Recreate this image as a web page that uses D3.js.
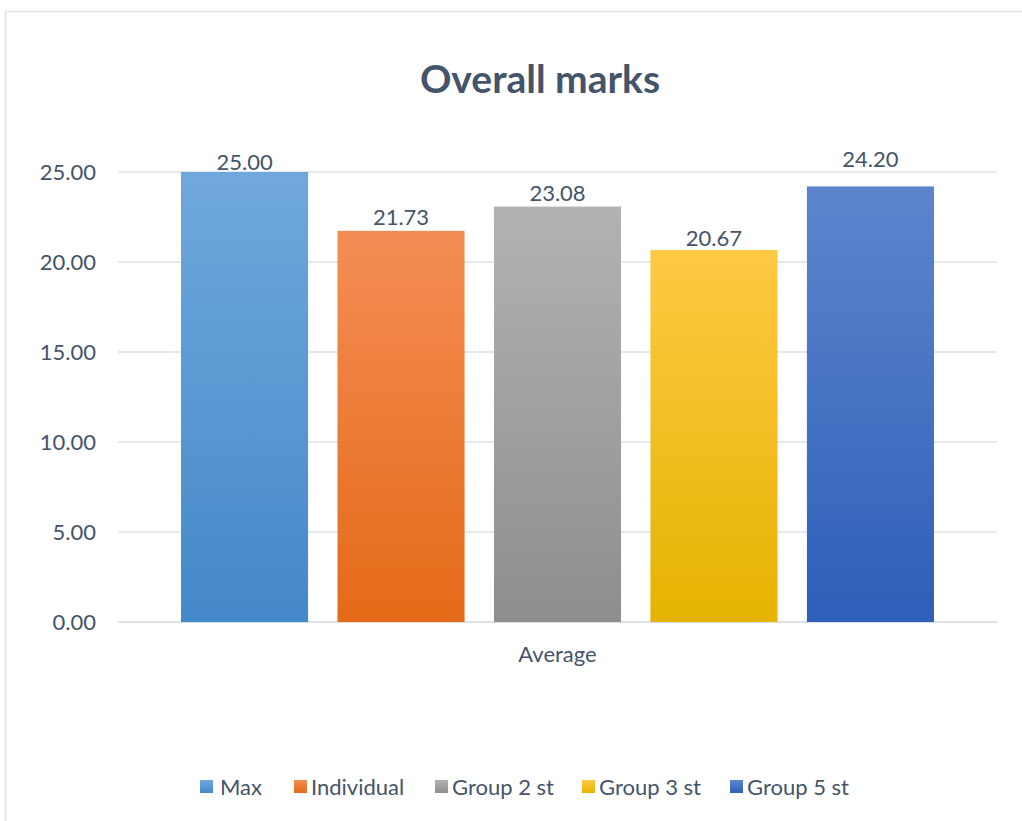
<!DOCTYPE html>
<html><head><meta charset="utf-8">
<script src="https://cdn.jsdelivr.net/npm/d3@7"></script>
<style>body{margin:0;background:#fff;} text{font-family:Lato,"Open Sans",sans-serif;}</style>
</head><body><svg id="c" width="1022" height="821"></svg>
<script>
const categories = ["Average"];
const seriesNames = ["Max","Individual","Group 2 st","Group 3 st","Group 5 st"];
const seriesValues = [25.00, 21.73, 23.08, 20.67, 24.20];
const yTicks = [0,5,10,15,20,25];
const colorsTop = ["#70a8dd","#f48d55","#b2b2b2","#ffc943","#5d85cd"];
const colorsBottom = ["#4388c8","#e46a17","#8e8e8e","#e5b300","#2d5fb8"];

const svg = d3.select("#c");
const txt = "#44546a";
svg.append("rect").attr("x",5.5).attr("y",11.5).attr("width",1030).attr("height",830)
  .attr("fill","#fff").attr("stroke","#dfe3e8").attr("stroke-width",1.5);

const defs = svg.append("defs");
seriesNames.forEach((s,i)=>{
  const g = defs.append("linearGradient").attr("id","g"+i).attr("x1",0).attr("y1",0).attr("x2",0).attr("y2",1);
  g.append("stop").attr("offset","0%").attr("stop-color",colorsTop[i]);
  g.append("stop").attr("offset","100%").attr("stop-color",colorsBottom[i]);
});

const pLeft=118, pRight=997, pTop=172, pBottom=622;
const y = d3.scaleLinear().domain([0,25]).range([pBottom,pTop]);
const x0 = d3.scaleBand().domain(categories).range([pLeft,pRight]).paddingInner(0).paddingOuter(0.0837);
const x1 = d3.scaleBand().domain(seriesNames).range([0,x0.bandwidth()]).paddingInner(0.188).paddingOuter(0);
// label gap above each bar (as laid out in the source chart)
const labelGap = [2,6,6,4,19];

svg.append("text").attr("x",540).attr("y",93).attr("text-anchor","middle")
  .attr("font-size",39).attr("font-weight","bold").attr("fill",txt).text("Overall marks");

svg.append("g").selectAll("line").data(yTicks).join("line")
  .attr("x1",pLeft).attr("x2",pRight).attr("y1",d=>y(d)).attr("y2",d=>y(d))
  .attr("stroke","#dde1e6").attr("stroke-width",d=>d===0?2:1.5);

const yAxis = d3.axisLeft(y).tickValues(yTicks).tickFormat(d3.format(".2f")).tickSize(0).tickPadding(0);
const ga = svg.append("g").attr("transform",`translate(96,0)`).call(yAxis);
ga.select(".domain").remove();
ga.selectAll("text").attr("font-size",22).attr("fill",txt).attr("font-family","Lato,'Open Sans',sans-serif").attr("dy","0.35em");

const gc = svg.append("g").selectAll("g").data(categories).join("g").attr("transform",d=>`translate(${x0(d)},0)`);
gc.selectAll("rect").data(seriesNames.map((s,i)=>({s,v:seriesValues[i],i}))).join("rect")
  .attr("x",d=>x1(d.s)).attr("width",x1.bandwidth())
  .attr("y",d=>y(d.v)).attr("height",d=>pBottom-y(d.v)).attr("fill",d=>`url(#g${d.i})`);
gc.selectAll("text.lbl").data(seriesNames.map((s,i)=>({s,v:seriesValues[i],i}))).join("text")
  .attr("class","lbl").attr("x",d=>x1(d.s)+x1.bandwidth()/2).attr("y",d=>y(d.v)-labelGap[d.i])
  .attr("text-anchor","middle").attr("font-size",22).attr("fill",txt).text(d=>d.v.toFixed(2));

svg.append("g").selectAll("text").data(categories).join("text")
  .attr("x",d=>x0(d)+x0.bandwidth()/2).attr("y",662).attr("text-anchor","middle")
  .attr("font-size",22).attr("fill",txt).text(d=>d);

const legendTextX = [220,311,452,599,747];
const lg = svg.append("g").selectAll("g").data(seriesNames).join("g")
  .attr("transform",(d,i)=>`translate(${legendTextX[i]},0)`);
lg.append("rect").attr("x",(d,i)=>i===0?-20:-17).attr("y",780).attr("width",13).attr("height",13).attr("fill",(d,i)=>`url(#g${i})`);
lg.append("text").attr("x",0).attr("y",795).attr("font-size",22).attr("fill",txt).text(d=>d);
</script></body></html>
